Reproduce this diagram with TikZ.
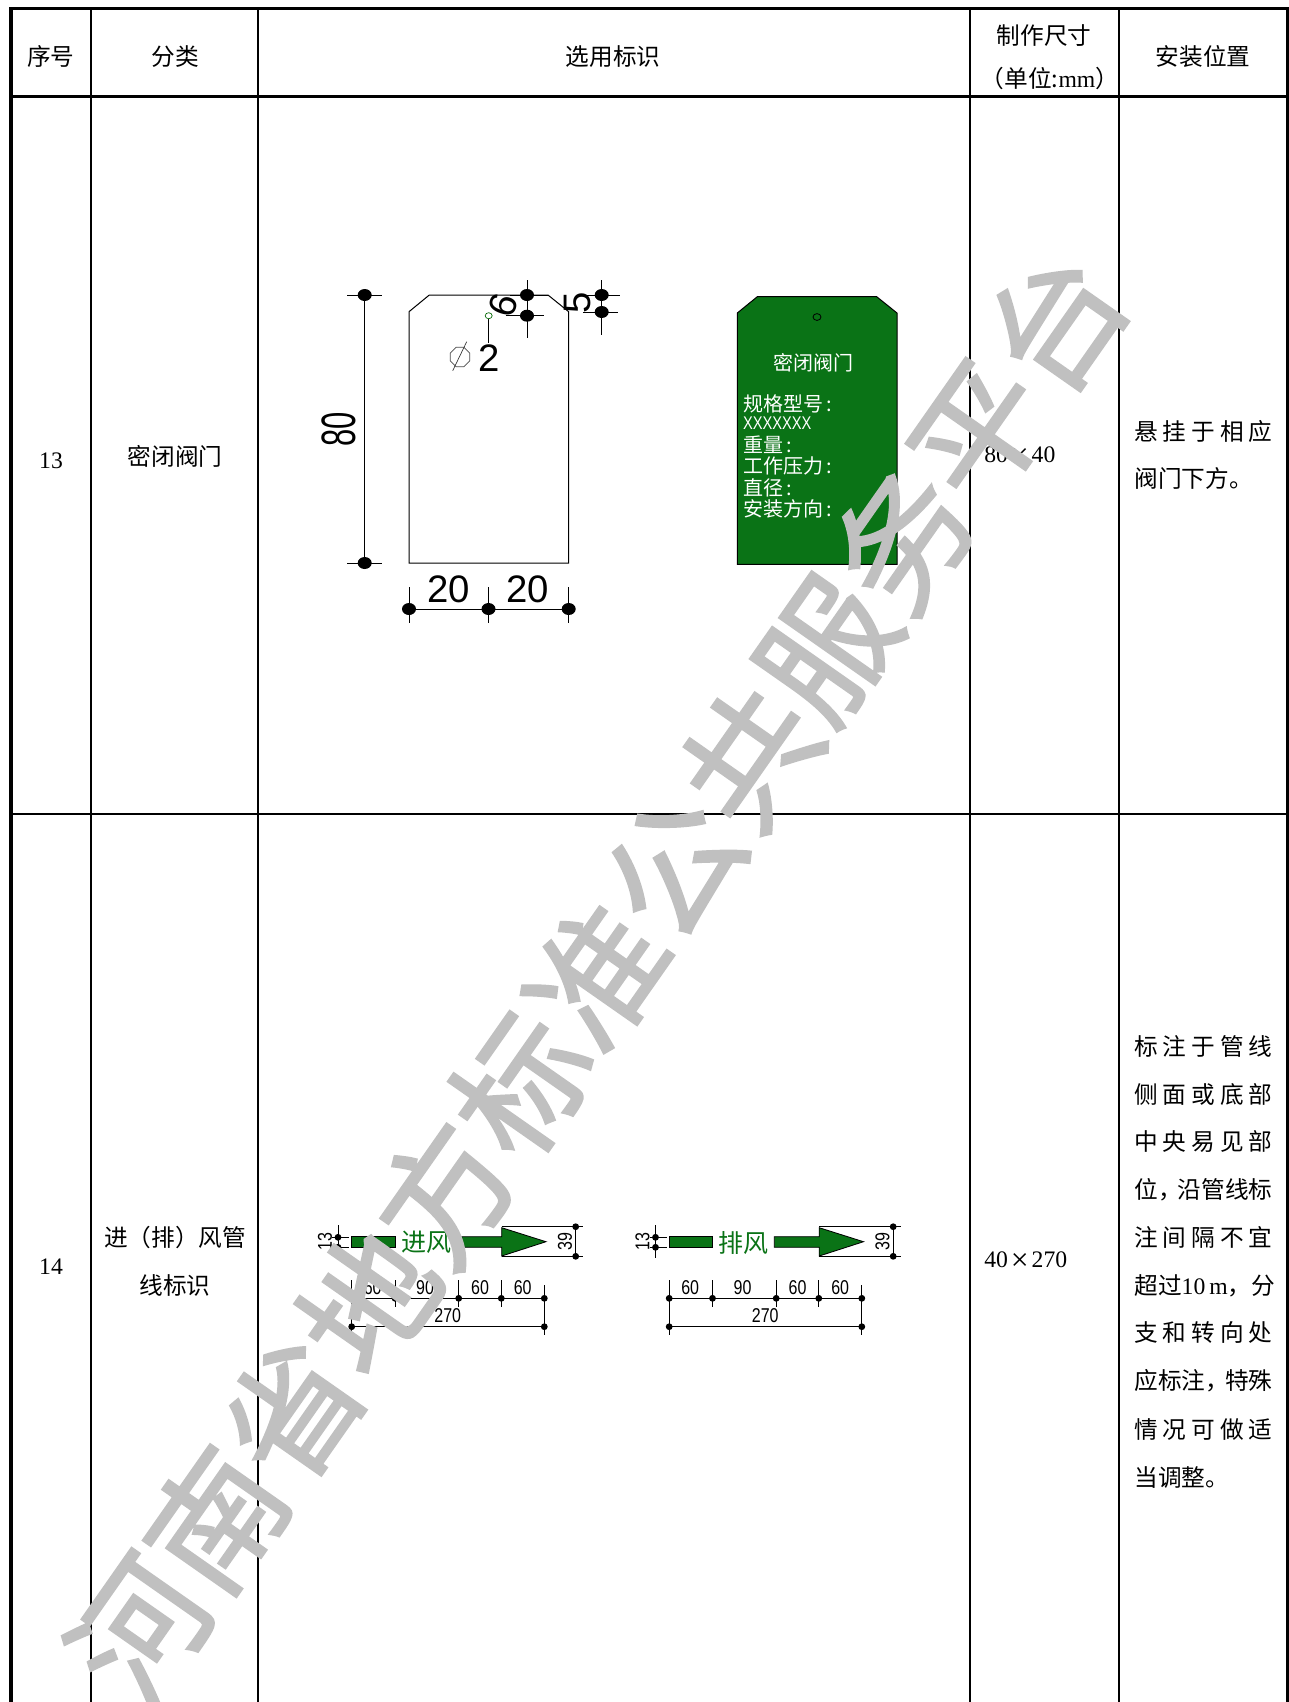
\documentclass[tikz,border=0pt]{standalone}
\usepackage{fontspec}
\setmainfont{Noto Sans CJK SC}
\newfontfamily\wmfont[FakeBold=1.8]{Noto Sans CJK SC}
\newfontfamily\serdigits{Liberation Serif}
\newfontfamily\dimbig{Liberation Sans}
\newfontfamily\dimsmall[FakeStretch=0.8]{Liberation Sans}
\newfontfamily\dimtall[FakeStretch=0.64]{Liberation Sans}
\definecolor{taggreen}{HTML}{0A7316}
\definecolor{wmgrey}{HTML}{C0C0C0}
\newcommand{\ser}[1]{{\serdigits #1}}
\newcommand{\bigx}{\makebox[1em][c]{\raisebox{-0.12em}{\serdigits\fontsize{19pt}{19pt}\selectfont ×}}}
\newcommand{\just}[1]{\makebox[82.8pt][s]{#1}}
\newcommand{\bigdot}[2]{\fill (#1,#2) ellipse [x radius=7, y radius=6];}
\newcommand{\smalldot}[2]{\fill (#1,#2) circle [radius=3.4];}
\tikzset{
  outer/.style={line width=1.9pt,black},
  inner/.style={line width=1.2pt,black},
  thin/.style={line width=0.6pt,black},
  cell/.style={inner sep=0pt,yshift=-0.2pt,font=\fontsize{14.2pt}{16pt}\selectfont},
  cellw/.style={cell,anchor=west},
  whitetxt/.style={inner sep=0pt,anchor=west,text=white,font=\fontsize{12pt}{14pt}\selectfont},
  bigdim/.style={inner sep=0pt,font=\dimbig\fontsize{23pt}{24pt}\selectfont},
  smalldim/.style={inner sep=0pt,font=\dimsmall\fontsize{12pt}{14pt}\selectfont},
  greentxt/.style={inner sep=0pt,text=taggreen,font=\fontsize{15pt}{17pt}\selectfont},
  watermark/.style={inner sep=0pt,text=wmgrey,rotate=55,font=\wmfont\fontsize{79.8pt}{80pt}\selectfont}
}
\newcommand{\airsign}[4]{%
  \begin{scope}[shift={(#1,0)}]
    \fill[taggreen,draw=black,line width=0.5pt] (351.7,1236.7) rectangle (395,1247.3);
    \fill[taggreen,draw=black,line width=0.5pt] (#4,1236.7) -- (501.7,1236.7) -- (501.7,1227.7) -- (546,1241.7) -- (501.7,1256) -- (501.7,1247.3) -- (#4,1247.3) -- cycle;
    \node[greentxt] at (#3,1242.7) {#2};
    \draw[thin] (338,1225) -- (338,1258);
    \draw[thin] (332,1237.3) -- (349,1237.3) (332,1247.3) -- (349,1247.3);
    \smalldot{338}{1237.3}\smalldot{338}{1247.3}
    \node[smalldim,rotate=90] at (325,1241.7) {13};
    \draw[thin] (501.7,1226.7) -- (583,1226.7) (501.7,1256.3) -- (583,1256.3);
    \draw[thin] (575.7,1226.7) -- (575.7,1256.3);
    \smalldot{575.7}{1226.7}\smalldot{575.7}{1256.3}
    \node[smalldim,rotate=90] at (565,1241.7) {39};
    \draw[thin] (351.7,1298.3) -- (544.3,1298.3);
    \draw[thin] (351.7,1326.7) -- (544.3,1326.7);
    \draw[thin] (351.7,1280) -- (351.7,1335);
    \draw[thin] (395,1280) -- (395,1306.7);
    \draw[thin] (458.7,1280) -- (458.7,1306.7);
    \draw[thin] (501.3,1280) -- (501.3,1306.7);
    \draw[thin] (544.3,1285) -- (544.3,1335);
    \smalldot{351.7}{1298.3}\smalldot{395}{1298.3}\smalldot{458.7}{1298.3}\smalldot{501.3}{1298.3}\smalldot{544.3}{1298.3}
    \smalldot{351.7}{1326.7}\smalldot{544.3}{1326.7}
    \node[smalldim] at (372.7,1288) {60};
    \node[smalldim] at (425,1288) {90};
    \node[smalldim] at (480,1288) {60};
    \node[smalldim] at (522.7,1288) {60};
    \node[smalldim] at (447.7,1316) {270};
  \end{scope}}
\begin{document}
\begin{tikzpicture}[x=0.6pt,y=-0.6pt]
\useasboundingbox (0,0) rectangle (1289,1702);
\clip (0,0) rectangle (1289,1702);
\fill[white] (0,0) rectangle (1289,1702);
\draw[outer] (11,1702) -- (11,8.5) -- (1288,8.5) -- (1288,1702);
\draw[outer] (11,96.5) -- (1288,96.5);
\draw[inner] (11,813.7) -- (1288,813.7);
\foreach \cx in {91,258,970,1119} \draw[inner] (\cx,8) -- (\cx,1702);
\node[cell] (h1) at (51,56) {序号};
\node[cell] (h2) at (175,56) {分类};
\node[cell] (h3) at (613,56) {选用标识};
\node[cell] (h4a) at (1044,35) {制作尺寸};
\node[cell] (h4b) at (1050,78) {（单位:\ser{mm}）};
\node[cell] (h5) at (1203,56) {安装位置};
\node[cell] (n13) at (51,460) {\ser{13}};
\node[cell] (c13) at (175,456) {密闭阀门};
\node[cellw] (s13) at (984,456) {\ser{80}\bigx\ser{40}};
\node[cellw] (p13a) at (1134,431) {\just{悬\hfil 挂\hfil 于\hfil 相\hfil 应}};
\node[cellw] (p13b) at (1134,478) {阀门下方。};
\node[cell] (n14) at (51,1266) {\ser{14}};
\node[cell] (c14a) at (175,1237) {进（排）风管};
\node[cell] (c14b) at (175,1285) {线标识};
\node[cellw] (s14) at (984,1261) {\ser{40}\bigx\ser{270}};
\node[cellw] (p1) at (1134,1046) {\just{标\hfil 注\hfil 于\hfil 管\hfil 线}};
\node[cellw] (p2) at (1134,1094) {\just{侧\hfil 面\hfil 或\hfil 底\hfil 部}};
\node[cellw] (p3) at (1134,1141) {\just{中\hfil 央\hfil 易\hfil 见\hfil 部}};
\node[cellw] (p4) at (1134,1189) {\just{位，\hspace{-0.17em}沿管线标}};
\node[cellw] (p5) at (1134,1237) {\just{注\hfil 间\hfil 隔\hfil 不\hfil 宜}};
\node[cellw] (p6) at (1134,1285) {\just{超\hfil 过\ser{10 m}，\hfil 分}};
\node[cellw] (p7) at (1134,1332) {\just{支\hfil 和\hfil 转\hfil 向\hfil 处}};
\node[cellw] (p8) at (1134,1380) {\just{应标注，\hspace{-0.17em}特殊}};
\node[cellw] (p9) at (1134,1429) {\just{情\hfil 况\hfil 可\hfil 做\hfil 适}};
\node[cellw] (p10) at (1134,1477) {当调整。};
\draw[thin] (409,563) -- (409,311.7) -- (429.3,295) -- (548,295) -- (568.7,311.7) -- (568.7,563) -- cycle;
\draw[thin] (488.7,319) -- (488.7,343);
\draw[black!60!green,line width=0.4pt] (488.7,315.7) ellipse [x radius=3.5, y radius=3];
\draw[line width=0.4pt,black!70] (469.7,353) -- (464,347.3) -- (456,347.3) -- (450.3,353) -- (450.3,361) -- (456,366.7) -- (464,366.7) -- (469.7,361) -- cycle;
\draw[line width=0.4pt,black!80] (452.7,370.7) -- (466.7,341.7);
\node[bigdim] (d2) at (489,358) {2};
\draw[thin] (364.7,295) -- (364.7,563);
\draw[thin] (347,295) -- (382,295) (347,563) -- (382,563);
\bigdot{364.7}{295}\bigdot{364.7}{563}
\node[inner sep=0pt,rotate=90,font=\dimtall\fontsize{29pt}{30pt}\selectfont] (d80) at (339,429) {80};
\draw[thin] (409,609) -- (568.7,609);
\draw[thin] (409,587) -- (409,623) (488.5,587) -- (488.5,623) (568.7,587) -- (568.7,623);
\bigdot{409}{609}\bigdot{488.5}{609}\bigdot{568.7}{609}
\node[bigdim] (d20a) at (449,589) {20};
\node[bigdim] (d20b) at (528,589) {20};
\draw[thin] (527,280) -- (527,338);
\draw[thin] (510,295) -- (548,295) (505.7,315.7) -- (543.7,315.7);
\bigdot{527}{295}\bigdot{527}{315.7}
\node[bigdim,rotate=72] (d6) at (503,305) {6};
\draw[thin] (601.7,280) -- (601.7,335);
\draw[thin] (583,295) -- (620,295) (583,312) -- (618,312);
\bigdot{601.7}{295}\bigdot{601.7}{312}
\node[bigdim,rotate=90] (d5) at (577,303) {5};
\fill[taggreen,draw=black,line width=0.6pt] (737.3,564.3) -- (737.3,313) -- (757.3,296.7) -- (876.7,296.7) -- (897,313) -- (897,564.3) -- cycle;
\draw[black,line width=0.5pt] (817,317) ellipse [x radius=4, y radius=3.4];
\node[whitetxt,anchor=center] (t0) at (813,362.7) {密闭阀门};
\node[whitetxt] (t1) at (742.7,404) {规格型号\,:};
\node[whitetxt,font=\dimsmall\fontsize{11pt}{12pt}\selectfont] (t2) at (742.7,423) {XXXXXXX};
\node[whitetxt] (t3) at (742.7,445) {重量\,:};
\node[whitetxt] (t4) at (742.7,466) {工作压力\,:};
\node[whitetxt] (t5) at (742.7,488) {直径\,:};
\node[whitetxt] (t6) at (742.7,509) {安装方向\,:};
\airsign{0}{进风}{426}{461.7}
\airsign{317.5}{排风}{425.8}{456.8}
\node[watermark] (wm) at (597,975) {河南省地方标准公共服务平台};
\end{tikzpicture}
\end{document}
